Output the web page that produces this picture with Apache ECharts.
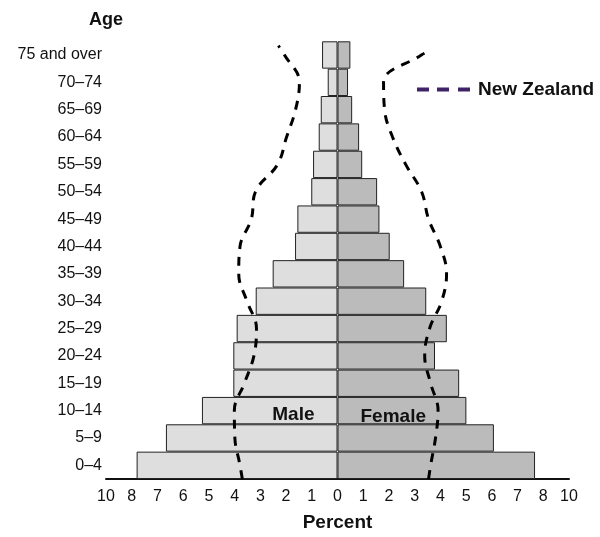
<!DOCTYPE html>
<html>
<head>
<meta charset="utf-8">
<script src="https://cdn.jsdelivr.net/npm/echarts@6/dist/echarts.min.js"></script>
<style>
  html, body { margin: 0; padding: 0; background: #fff; }
  #chart { width: 600px; height: 537px; }
</style>
</head>
<body>
<div id="chart"></div>
<script>
// age groups, bottom to top
const ages = ['0–4', '5–9', '10–14', '15–19', '20–24', '25–29', '30–34', '35–39',
  '40–44', '45–49', '50–54', '55–59', '60–64', '65–69', '70–74', '75 and over'];

// percent of population
const male = [7.81, 6.67, 5.27, 4.05, 4.05, 3.92, 3.18, 2.52, 1.65, 1.56, 1.02, 0.95, 0.73, 0.65, 0.38, 0.60];
const female = [7.68, 6.08, 5.01, 4.73, 3.79, 4.25, 3.45, 2.59, 2.03, 1.63, 1.54, 0.96, 0.84, 0.57, 0.41, 0.50];

// New Zealand outline: position on the age scale (0 = bottom, 16 = top) and percent
const nzMalePos = [0, 0.5, 1.5, 2.5, 3.5, 4.5, 5.5, 6.5, 7.5, 8.5, 9.5, 10.5, 11.5, 12.5, 13.5, 14.5, 15.5, 15.84];
const nzMale = [3.70, 3.79, 3.99, 4.01, 3.62, 3.25, 3.15, 3.52, 3.84, 3.79, 3.35, 3.19, 2.33, 1.98, 1.63, 1.48, 2.06, 2.30];
const nzFemalePos = [0, 0.5, 1.5, 2.5, 3.5, 4.5, 5.5, 6.5, 7.5, 8.5, 9.5, 10.5, 11.5, 12.5, 13.5, 14.5, 15.5, 15.61];
const nzFemale = [3.54, 3.62, 3.81, 3.91, 3.62, 3.39, 3.58, 4.05, 4.24, 4.00, 3.54, 3.27, 2.65, 2.14, 1.83, 1.79, 3.26, 3.50];

// x tick labels for -9 .. 9
const tickLabels = ['10', '8', '7', '6', '5', '4', '3', '2', '1', '0', '1', '2', '3', '4', '5', '6', '7', '8', '10'];

const font = 'Arial, "Liberation Sans", sans-serif';
const chart = echarts.init(document.getElementById('chart'));

const nzLine = {
  color: '#000',
  width: 3,
  type: [9, 8]
};

chart.setOption({
  animation: false,
  grid: { left: 106, right: 31, top: 41.3, bottom: 54.7 },
  legend: {
    left: 412,
    top: 75,
    selectedMode: false,
    itemWidth: 53,
    itemHeight: 4,
    itemGap: 8,
    textStyle: { fontFamily: font, fontSize: 19, fontWeight: 'bold', color: '#111', padding: [0, 0, 0, 3] },
    data: [{
      name: 'New Zealand',
      icon: 'path://M0,0H12V4H0Z M20,0H32V4H20Z M41,0H53V4H41Z',
      itemStyle: { color: '#3f2366', borderWidth: 0 }
    }]
  },
  xAxis: {
    type: 'value',
    min: -9,
    max: 9,
    interval: 1,
    name: 'Percent',
    nameLocation: 'middle',
    nameGap: 34,
    nameTextStyle: { fontFamily: font, fontSize: 19, fontWeight: 'bold', color: '#111' },
    splitLine: { show: false },
    axisTick: { show: false },
    axisLine: { lineStyle: { color: '#111', width: 2 } },
    axisLabel: {
      margin: 10,
      fontFamily: font,
      fontSize: 16,
      color: '#111',
      formatter: v => tickLabels[v + 9]
    }
  },
  yAxis: [{
    type: 'category',
    data: ages,
    name: 'Age',
    nameLocation: 'end',
    nameGap: 12,
    nameTextStyle: { fontFamily: font, fontSize: 18, fontWeight: 'bold', color: '#111' },
    axisLine: { show: false, onZero: false },
    axisTick: { show: false },
    axisLabel: { margin: 4, fontFamily: font, fontSize: 16, color: '#111' }
  }, {
    type: 'value',
    min: 0,
    max: 16,
    show: false
  }],
  series: [{
    name: 'Male',
    type: 'bar',
    barCategoryGap: '0%',
    barGap: '-100%',
    itemStyle: { color: '#dedede', borderColor: '#222', borderWidth: 1 },
    data: male.map((v, i) => ages[i] === '10–14'
      ? { value: -v, label: { show: true, position: 'insideRight', distance: 23, offset: [0, 4], formatter: 'Male',
          fontFamily: font, fontSize: 19, fontWeight: 'bold', color: '#111' } }
      : -v)
  }, {
    name: 'Female',
    type: 'bar',
    barCategoryGap: '0%',
    barGap: '-100%',
    itemStyle: { color: '#bbbbbb', borderColor: '#222', borderWidth: 1 },
    data: female.map((v, i) => ages[i] === '10–14'
      ? { value: v, label: { show: true, position: 'insideLeft', distance: 23, offset: [0, 6], formatter: 'Female',
          fontFamily: font, fontSize: 19, fontWeight: 'bold', color: '#111' } }
      : v)
  }, {
    name: 'New Zealand',
    type: 'line',
    yAxisIndex: 1,
    smooth: 0.4,
    symbol: 'none',
    lineStyle: nzLine,
    data: nzMale.map((v, i) => [-v, nzMalePos[i]])
  }, {
    name: 'New Zealand',
    type: 'line',
    yAxisIndex: 1,
    smooth: 0.4,
    symbol: 'none',
    lineStyle: nzLine,
    data: nzFemale.map((v, i) => [v, nzFemalePos[i]])
  }]
});
</script>
</body>
</html>
